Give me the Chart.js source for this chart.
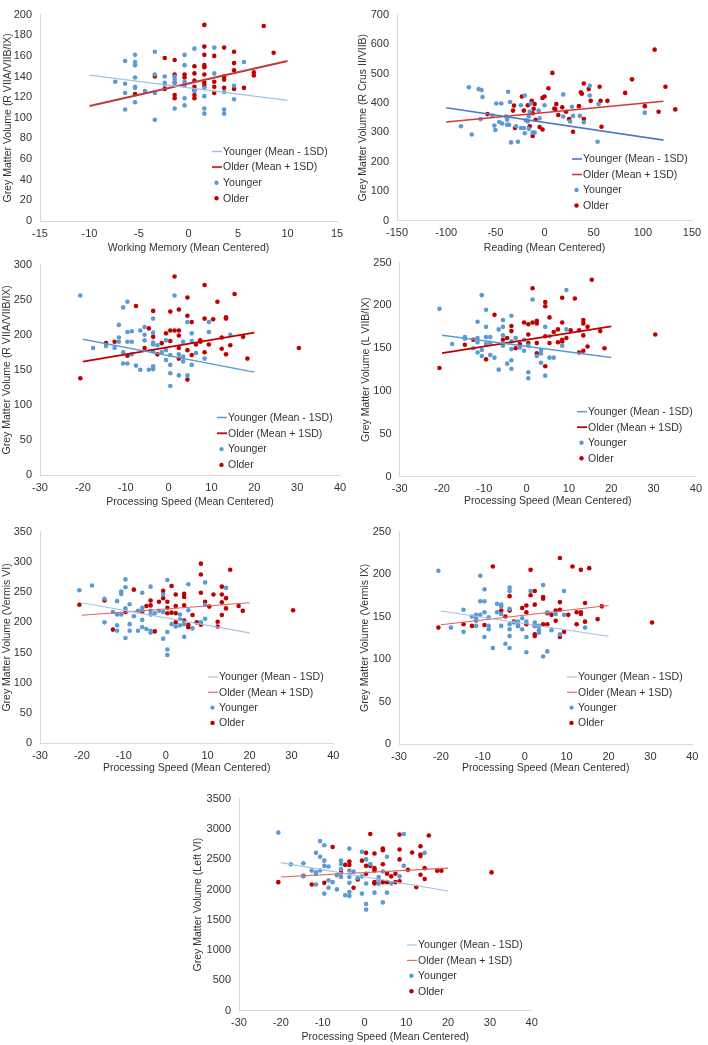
<!DOCTYPE html>
<html><head><meta charset="utf-8">
<script src="https://cdn.jsdelivr.net/npm/chart.js"></script>
<style>
body{margin:0;background:#fff;width:708px;height:1045px;position:relative;overflow:hidden}
canvas{position:absolute}
</style>
</head><body>
<canvas id="c1"></canvas><canvas id="c2"></canvas><canvas id="c3"></canvas><canvas id="c4"></canvas>
<canvas id="c5"></canvas><canvas id="c6"></canvas><canvas id="c7"></canvas>
<script>
// ---------- DATA ----------
const seriesLabels = ['Younger (Mean - 1SD)', 'Older (Mean + 1SD)', 'Younger', 'Older'];

// Panel 1: Working Memory vs R VIIA/VIIB/IX
const p1XTicks = [-15, 15, 5], p1YTicks = [0, 200, 20];
const p1LineX = [-10, 10], p1YoungLine = [141.4, 116.9], p1OldLine = [111.5, 155];
const p1YoungX = [-7.4, -6.4,-6.4,-6.4,-6.4, -5.4,-5.4,-5.4,-5.4,-5.4,-5.4,-5.4, -4.4, -3.4,-3.4,-3.4,-3.4, -2.4,-2.4,-2.4, -1.4,-1.4,-1.4,-1.4, -0.4,-0.4,-0.4,-0.4,-0.4,-0.4,-0.4, 0.6,0.6, 1.6,1.6,1.6,1.6, 2.6,2.6, 3.6,3.6,3.6, 4.6,4.6, 5.6];
const p1YoungY = [135, 155,133,124,108, 161,154,151,139,130,129,115, 126, 164,142,124,98, 140,134,132, 140,137,134,109, 161,151,135,133,131,119,112, 167,126, 129,121,109,104, 168,143, 125,108,104, 131,118, 154];
const p1OldX = [-5.4, -3.4, -2.4,-2.4, -1.4,-1.4,-1.4,-1.4,-1.4, -0.4,-0.4, 0.6,0.6,0.6,0.6,0.6,0.6,0.6, 1.6,1.6,1.6,1.6,1.6,1.6,1.6,1.6, 2.6,2.6,2.6,2.6, 3.6,3.6,3.6,3.6, 4.6,4.6,4.6,4.6, 5.6, 6.6,6.6, 7.6, 8.6];
const p1OldY = [123, 140, 158,128, 156,142,134,122,119, 142,139, 150,143,136,130,127,122,119, 190,169,161,151,149,142,134,131, 160,135,130,124, 168,140,137,129, 164,153,146,128, 129, 144,141, 189, 163];

// Panel 2: Reading vs R Crus II/VIIB
const p2XTicks = [-150, 150, 50], p2YTicks = [0, 700, 100];
const p2LineX = [-100, 121], p2YoungLine = [383.5, 273.6], p2OldLine = [335.2, 405.5];
const p2YoungX = [-85,-77,-74,-67,-64,-63,-65,-53,-51,-50,-49,-46,-44,-43,-39,-38,-38,-37,-36,-35,-34,-29,-27,-24,-24,-21,-20,-20,-19,-17,-16,-16,-15,-14,-12,-10,-6,-5,0,19,19,26,29,28,36,40,46,46,55,54,102];
const p2YoungY = [321,453,293,447,444,420,345,357,323,308,398,335,398,330,354,343,326,438,326,403,266,321,268,392,315,315,425,297,341,337,354,312,370,398,299,299,374,348,392,429,354,337,356,387,356,334,458,425,396,268,367];
const p2OldX = [-58,-32,-31,-30,-23,-21,-17,-15,-13,-12,-12,-10,-11,-9,-5,-2,-2,0,4,8,10,11,12,14,18,22,25,29,35,37,38,40,40,45,47,56,57,58,64,82,89,102,112,116,123,133];
const p2OldY = [362,374,391,315,422,374,392,321,407,365,288,396,380,343,318,310,417,422,450,502,381,378,396,359,385,370,345,302,389,436,431,345,466,447,407,455,407,319,407,434,480,389,581,370,455,378];

// Panel 3: Processing Speed vs R VIIA/VIIB/IX
const p3XTicks = [-30, 40, 10], p3YTicks = [0, 300, 50];
const p3LineX = [-20, 20], p3YoungLine = [193.6, 146.7], p3OldLine = [161.7, 203];
const p3YoungX = [-20.6, -17.6, -14.6, -12.6, -11.6,-11.6,-11.6, -10.6,-10.6,-10.6, -9.6,-9.6,-9.6,-9.6, -8.6,-8.6,-8.6, -7.6, -6.6,-6.6, -5.6,-5.6,-5.6, -4.6, -3.6,-3.6,-3.6,-3.6,-3.6,-3.6,-3.6, -2.6, -1.6, -0.6,-0.6,-0.6, 0.4,0.4,0.4,0.4, 1.4, 2.4,2.4, 3.4,3.4,3.4, 4.4,4.4, 5.4,5.4,5.4, 6.4, 8.4, 9.4,9.4, 14.4];
const p3YoungY = [256, 181, 184, 181, 214,196,190, 175,159,239, 247,204,190,159, 205,190,172, 156, 206,150, 211,192,200, 150, 223,203,189,186,176,155,151, 185, 175, 192,178,164, 171,157,145,127, 256, 172,142, 190,169,162, 218,142, 202,191,157, 174, 166, 218,204, 200];
const p3OldX = [-20.6, -14.6, -12.6, -9.6, -7.6, -5.6, -4.6, -3.6,-3.6, -2.6, -1.6, -0.6, 0.4,0.4,0.4, 1.4,1.4, 2.4,2.4,2.4,2.4,2.4, 4.4,4.4,4.4,4.4, 5.4,5.4, 6.4, 7.4,7.4, 8.4,8.4,8.4, 9.4, 10.4, 11.4, 12.4,12.4, 13.4,13.4,13.4, 14.4, 15.4, 17.4, 18.4, 30.4];
const p3OldY = [138, 188, 190, 170, 241, 181, 209, 234,197, 172, 188, 202, 233,206,191, 283,206, 236,206,199,181,166, 253,227,178,136, 218,171, 186, 190,192, 271,223,175, 186, 222, 247, 196,180, 225,223,172, 185, 258, 197, 166, 181];

// Panel 4: Processing Speed vs L VIIB/IX
const p4XTicks = [-30, 40, 10], p4YTicks = [0, 250, 50];
const p4LineX = [-20, 20], p4YoungLine = [165.3, 139.3], p4OldLine = [144.3, 175.6];
const p4YoungX = [-20.6, -17.6, -14.6,-14.6, -12.6, -11.6,-11.6,-11.6,-11.6, -10.6,-10.6,-10.6, -9.6,-9.6,-9.6,-9.6, -8.6,-8.6,-8.6, -7.6, -6.6,-6.6, -5.6,-5.6,-5.6,-5.6, -4.6, -3.6,-3.6,-3.6,-3.6,-3.6, -2.6, -1.6, -0.6,-0.6, 0.4,0.4,0.4, 1.4, 2.4, 3.4,3.4,3.4, 4.4,4.4, 5.4,5.4, 6.4, 8.4, 9.4,9.4];
const p4YoungY = [196, 155, 163,161, 150, 181,162,157,145, 148,141,212, 195,175,163,155, 163,156,142, 139, 172,125, 183,175,165,153, 132, 188,158,149,136,126, 162, 151, 160,147, 153,122,115, 207, 141, 148,144,133, 175,118, 164,139, 139, 153, 218,172];
const p4OldX = [-20.6, -14.6, -12.6, -9.6, -7.6, -5.6, -4.6, -3.6,-3.6, -2.6, -1.6, -0.6, 0.4,0.4,0.4, 1.4,1.4, 2.4,2.4,2.4,2.4, 4.4,4.4,4.4,4.4, 5.4,5.4, 6.4, 7.4,7.4, 8.4,8.4,8.4,8.4, 9.4, 10.4, 11.4, 12.4,12.4, 13.4,13.4,13.4,13.4, 14.4,14.4, 15.4, 17.4, 18.4, 30.4];
const p4OldY = [127, 154, 160, 137, 189, 160, 162, 176,170, 150, 155, 180, 178,166,156, 220,180, 182,179,156,144, 204,199,164,129, 186,156, 169, 172,157, 209,180,160,158, 162, 171, 208, 171,145, 183,179,165,147, 175,152, 230, 170, 150, 166];

// Panel 5: Processing Speed vs Vermis VI
const p5XTicks = [-30, 40, 10], p5YTicks = [0, 350, 50];
const p5LineX = [-20, 20], p5YoungLine = [232.3, 182.6], p5OldLine = [211.8, 232.3];
const p5YoungX = [-20.6, -17.6, -14.6,-14.6, -12.6, -11.6,-11.6,-11.6,-11.6, -10.6,-10.6,-10.6, -9.6,-9.6,-9.6,-9.6, -8.6,-8.6,-8.6, -7.6, -6.6,-6.6, -5.6,-5.6,-5.6,-5.6,-5.6, -4.6, -3.6,-3.6,-3.6,-3.6,-3.6, -2.6, -1.6, -0.6,-0.6,-0.6, 0.4,0.4,0.4,0.4, 1.4, 2.4, 3.4,3.4,3.4, 4.4,4.4, 5.4,5.4, 6.4, 8.4, 9.4,9.4,9.4, 14.4];
const p5YoungY = [253, 261, 239,200, 217, 235,213,195,186, 251,247,213, 271,258,223,174, 230,197,186, 210, 219,186, 249,224,220,204,192, 189, 259,219,213,186,183, 215, 219, 246,217,173, 270,184,155,146, 197, 193, 213,205,195, 197,176, 263,220, 190, 200, 229,266,206, 257];
const p5OldX = [-20.6, -14.6, -12.6, -9.6, -7.6, -5.6, -4.6, -3.6,-3.6, -2.6, -1.6, -0.6,-0.6, 0.4,0.4,0.4, 1.4,1.4, 2.4,2.4,2.4,2.4, 4.4,4.4,4.4,4.4, 5.4,5.4, 6.4, 7.4, 8.4,8.4,8.4,8.4, 9.4, 10.4, 11.4, 12.4,12.4, 13.4,13.4,13.4,13.4, 14.4,14.4, 15.4, 17.4, 18.4, 30.4];
const p5OldY = [229, 236, 188, 217, 254, 217, 227, 236,228, 185, 234, 252,240, 234,224,215, 260,216, 246,227,215,200, 247,242,228,203, 196,192, 212, 200, 297,279,249,196, 234, 226, 246, 201,193, 259,246,233,212, 240,223, 287, 227, 219, 220];

// Panel 6: Processing Speed vs Vermis IX
const p6XTicks = [-30, 40, 10], p6YTicks = [0, 250, 50];
const p6LineX = [-20, 20], p6YoungLine = [156.5, 126.9], p6OldLine = [140.4, 163.1];
const p6YoungX = [-20.6, -17.6, -14.6,-14.6, -12.6, -11.6,-11.6,-11.6,-11.6, -10.6,-10.6,-10.6, -9.6,-9.6,-9.6,-9.6, -8.6,-8.6,-8.6, -7.6, -6.6,-6.6, -5.6,-5.6,-5.6,-5.6, -4.6, -3.6,-3.6,-3.6,-3.6,-3.6,-3.6,-3.6, -2.6, -1.6,-1.6, -0.6,-0.6, 0.4,0.4,0.4, 1.4, 2.4,2.4, 3.4,3.4,3.4, 4.4,4.4, 5.4,5.4, 6.4, 7.4, 8.4, 9.4,9.4, 14.4];
const p6YoungY = [204, 137, 158,132, 150, 148,145,139,152, 168,198,152, 182,168,155,126, 149,139,135, 113, 165,155, 164,162,153,139, 118, 184,180,159,141,135,127,113, 143, 144,139, 135,148, 144,126,108, 180, 143,139, 139,134,131, 187,103, 109,155, 134, 153, 129, 180,152, 137];
const p6OldX = [-20.6, -14.6, -12.6, -9.6, -7.6, -5.6, -4.6, -3.6,-3.6, -2.6, -1.6, -0.6, 0.4,0.4,0.4, 1.4,1.4, 2.4,2.4,2.4,2.4,2.4, 4.4,4.4,4.4, 5.4,5.4, 6.4, 7.4,7.4, 8.4,8.4,8.4,8.4, 9.4, 10.4, 11.4, 12.4,12.4, 13.4,13.4,13.4, 14.4,14.4, 15.4, 17.4, 18.4, 30.4];
const p6OldY = [137, 141, 139, 140, 209, 157, 150, 174,157, 144, 139, 160, 163,155,141, 205,175, 180,164,139,129,127, 173,171,141, 154,141, 152, 157,145, 219,167,158,126, 132, 152, 209, 155,141, 205,155,153, 166,144, 207, 147, 162, 143];

// Panel 7: Processing Speed vs Left VI
const p7XTicks = [-30, 40, 10], p7YTicks = [0, 3500, 500];
const p7LineX = [-20, 20], p7YoungLine = [2443, 1975], p7OldLine = [2207, 2352];
const p7YoungX = [-20.6, -17.6, -14.6,-14.6, -12.6, -11.6,-11.6,-11.6,-11.6, -10.6,-10.6,-10.6, -9.6,-9.6,-9.6,-9.6, -8.6,-8.6,-8.6, -7.6, -6.6,-6.6, -5.6,-5.6,-5.6,-5.6, -4.6, -3.6,-3.6,-3.6,-3.6,-3.6,-3.6, -2.6, -1.6, -0.6,-0.6,-0.6, 0.4,0.4,0.4,0.4, 1.4, 2.4, 3.4,3.4,3.4, 4.4,4.4, 5.4,5.4, 6.4, 8.4, 9.4,9.4, 14.4];
const p7YoungY = [2939, 2417, 2433,2217, 2314, 2605,2282,2260,2083, 2799,2540,2314, 2729,2476,2390,1932, 2379,2153,2029, 2121, 2234,2002, 2476,2422,2336,2207, 1905, 2675,2314,2207,2110,1959,1894, 2298, 2190, 2621,2217,1932, 2497,2099,1760,1668, 2422, 1948, 2207,2164,2094, 1787,2298, 2540,1948, 2099, 2217, 2917,2390, 2605];
const p7OldX = [-20.6, -14.6, -12.6, -9.6, -7.6, -5.6, -4.6, -3.6,-3.6, -2.6, -1.6, -0.6, 0.4,0.4,0.4, 1.4,1.4, 2.4,2.4,2.4,2.4,2.4, 4.4,4.4,4.4,4.4, 5.4,5.4, 6.4, 7.4,7.4, 8.4,8.4,8.4,8.4, 10.4, 11.4, 12.4, 13.4,13.4,13.4,13.4, 14.4,14.4, 15.4, 17.4, 18.4, 30.4];
const p7OldY = [2121, 2228, 2083, 2110, 2702, 2282, 2406, 2460,2406, 2029, 2164, 2476, 2605,2390,2260, 2917,2390, 2594,2352,2314,2121,2099, 2675,2648,2417,2121, 2260,2121, 2217, 2260,2121, 2906,2659,2497,2137, 2325, 2610, 2040, 2713,2578,2551,2244, 2352,2174, 2890, 2309, 2309, 2282];

// ---------- LAYOUT / STYLE ----------
const FONT = '"Liberation Sans", Arial, sans-serif';
const TXT = '#333333';
const panels = [
  {id:'c1', cv:[0,0,354,260], area:[40,337,9,221], ytx:8.3, xty:248.3, leg:[212,151.5,15.6],
   xt:p1XTicks, yt:p1YTicks, lx:p1LineX, yl:p1YoungLine, ol:p1OldLine, yx:p1YoungX, yy:p1YoungY, ox:p1OldX, oy:p1OldY,
   xTitle:'Working Memory (Mean Centered)', yTitle:'Grey Matter Volume (R VIIA/VIIB/IX)',
   st:{yc:'#9DC3E6', yw:1.4, oc:'#C0393B', ow:2}},
  {id:'c2', cv:[354,0,354,260], area:[397,692,8.3,220.7], ytx:363, xty:248.3, leg:[572,159,15.5],
   xt:p2XTicks, yt:p2YTicks, lx:p2LineX, yl:p2YoungLine, ol:p2OldLine, yx:p2YoungX, yy:p2YoungY, ox:p2OldX, oy:p2OldY,
   xTitle:'Reading (Mean Centered)', yTitle:'Grey Matter Volume (R Crus II/VIIB)',
   st:{yc:'#4F78C8', yw:1.6, oc:'#D23A3A', ow:1.6}},
  {id:'c3', cv:[0,250,354,265], area:[40,340,261.7,475], ytx:7.3, xty:501.7, leg:[217,417.5,15.8],
   xt:p3XTicks, yt:p3YTicks, lx:p3LineX, yl:p3YoungLine, ol:p3OldLine, yx:p3YoungX, yy:p3YoungY, ox:p3OldX, oy:p3OldY,
   xTitle:'Processing Speed (Mean Centered)', yTitle:'Grey Matter Volume (R VIIA/VIIB/IX)',
   st:{yc:'#5B9BD5', yw:1.5, oc:'#C00000', ow:1.8}},
  {id:'c4', cv:[354,248,354,265], area:[399.7,699,258,476.7], ytx:365.7, xty:500.7, leg:[577,411.7,15.5],
   xt:p4XTicks, yt:p4YTicks, lx:p4LineX, yl:p4YoungLine, ol:p4OldLine, yx:p4YoungX, yy:p4YoungY, ox:p4OldX, oy:p4OldY,
   xTitle:'Processing Speed (Mean Centered)', yTitle:'Grey Matter Volume (L VIIB/IX)',
   st:{yc:'#5B9BD5', yw:1.5, oc:'#C00000', ow:1.8}},
  {id:'c5', cv:[0,517,354,262], area:[40,333.3,527.3,743.3], ytx:6.7, xty:768.3, leg:[208,677,15.3],
   xt:p5XTicks, yt:p5YTicks, lx:p5LineX, yl:p5YoungLine, ol:p5OldLine, yx:p5YoungX, yy:p5YoungY, ox:p5OldX, oy:p5OldY,
   xTitle:'Processing Speed (Mean Centered)', yTitle:'Grey Matter Volume (Vermis VI)',
   st:{yc:'#9DC3E6', yw:1.1, oc:'#E06060', ow:1.1}},
  {id:'c6', cv:[354,517,354,262], area:[399,692.3,527.3,744], ytx:365, xty:768.3, leg:[567,677,15.3],
   xt:p6XTicks, yt:p6YTicks, lx:p6LineX, yl:p6YoungLine, ol:p6OldLine, yx:p6YoungX, yy:p6YoungY, ox:p6OldX, oy:p6OldY,
   xTitle:'Processing Speed (Mean Centered)', yTitle:'Grey Matter Volume (Vermis IX)',
   st:{yc:'#9DC3E6', yw:1.1, oc:'#E06060', ow:1.1}},
  {id:'c7', cv:[190,784,362,261], area:[239,531.7,794,1010.7], ytx:198.3, xty:1036.7, leg:[407,945,15.4],
   xt:p7XTicks, yt:p7YTicks, lx:p7LineX, yl:p7YoungLine, ol:p7OldLine, yx:p7YoungX, yy:p7YoungY, ox:p7OldX, oy:p7OldY,
   xTitle:'Processing Speed (Mean Centered)', yTitle:'Grey Matter Volume (Left VI)',
   st:{yc:'#9DC3E6', yw:1.1, oc:'#E06060', ow:1.1}}
];

const pts = (xs, ys) => xs.slice(0, Math.min(xs.length, ys.length)).map((x, i) => ({x, y: ys[i]}));

const insideLegend = {
  id: 'insideLegend',
  afterDraw(chart, args, o) {
    const ctx = chart.ctx;
    ctx.save();
    ctx.font = '10.5px ' + FONT;
    ctx.textBaseline = 'middle';
    ctx.textAlign = 'left';
    chart.data.datasets.forEach((ds, i) => {
      const cy = o.y + i * o.step;
      if (ds.showLine) {
        ctx.strokeStyle = ds.borderColor;
        ctx.lineWidth = ds.borderWidth;
        ctx.beginPath(); ctx.moveTo(o.x, cy); ctx.lineTo(o.x + 10, cy); ctx.stroke();
      } else {
        ctx.fillStyle = ds.backgroundColor;
        ctx.beginPath(); ctx.arc(o.x + 4.5, cy, 2.2, 0, Math.PI * 2); ctx.fill();
      }
      ctx.fillStyle = TXT;
      ctx.fillText(ds.label, o.x + 11, cy + 0.5);
    });
    ctx.restore();
  }
};

panels.forEach(p => {
  const cvs = document.getElementById(p.id);
  const [cl, ct, cw, ch] = p.cv;
  cvs.width = cw; cvs.height = ch;
  cvs.style.left = cl + 'px'; cvs.style.top = ct + 'px';
  cvs.style.width = cw + 'px'; cvs.style.height = ch + 'px';
  const [L, R, T, B] = p.area;
  const yW = L - cl, padR = cl + cw - R, padT = T - ct, xH = ct + ch - B;
  const xTitlePadB = Math.max(0, ct + ch - p.xty - 6.3);
  const yTitlePadT = Math.max(0, p.ytx - cl - 6.3);
  const tickFont = {family: FONT, size: 11};
  const titleFont = {family: FONT, size: 10.5};
  new Chart(cvs, {
    type: 'scatter',
    data: {
      datasets: [
        {label: seriesLabels[0], type: 'line', showLine: true, data: pts(p.lx, p.yl), borderColor: p.st.yc, borderWidth: p.st.yw, pointRadius: 0, fill: false},
        {label: seriesLabels[1], type: 'line', showLine: true, data: pts(p.lx, p.ol), borderColor: p.st.oc, borderWidth: p.st.ow, pointRadius: 0, fill: false},
        {label: seriesLabels[2], data: pts(p.yx, p.yy), backgroundColor: '#5B9BD5', borderWidth: 0, pointRadius: 2.3},
        {label: seriesLabels[3], data: pts(p.ox, p.oy), backgroundColor: '#C00000', borderWidth: 0, pointRadius: 2.3}
      ]
    },
    options: {
      responsive: false, animation: false, devicePixelRatio: 1,
      layout: {padding: {left: 0, right: padR, top: padT, bottom: 0}},
      plugins: {legend: {display: false}, tooltip: {enabled: false},
        insideLegend: {x: p.leg[0] - cl, y: p.leg[1] - ct, step: p.leg[2]}},
      scales: {
        x: {type: 'linear', position: 'bottom', min: p.xt[0], max: p.xt[1],
          ticks: {stepSize: p.xt[2], padding: 6, color: TXT, font: tickFont, callback: v => String(v), maxRotation: 0, autoSkip: false},
          grid: {display: false, drawTicks: false},
          border: {display: true, color: '#D9D9D9', width: 1},
          title: {display: true, text: p.xTitle, color: TXT, font: titleFont, padding: {top: 0, bottom: xTitlePadB}},
          afterFit: s => { s.height = xH; }},
        y: {type: 'linear', position: 'left', min: p.yt[0], max: p.yt[1],
          ticks: {stepSize: p.yt[2], padding: 8, color: TXT, font: tickFont, callback: v => String(v), autoSkip: false},
          grid: {display: false, drawTicks: false},
          border: {display: true, color: '#D9D9D9', width: 1},
          title: {display: true, text: p.yTitle, color: TXT, font: titleFont, padding: {top: yTitlePadT, bottom: 0}},
          afterFit: s => { s.width = yW; }}
      }
    },
    plugins: [insideLegend]
  });
});
</script>
</body></html>
